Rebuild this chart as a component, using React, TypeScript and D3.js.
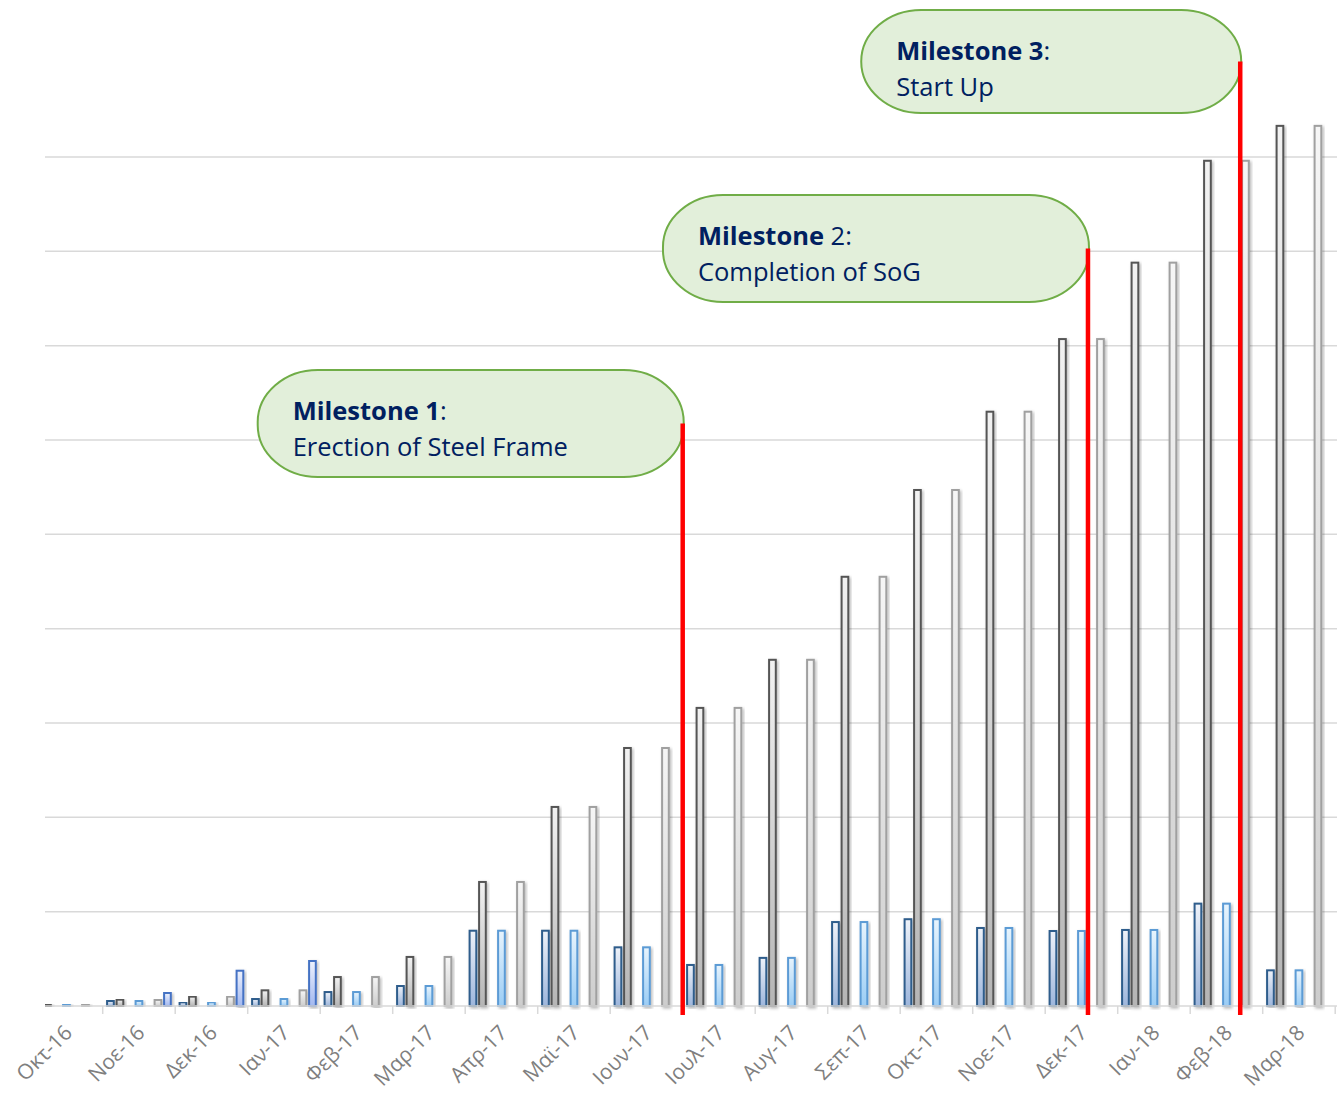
import * as d3 from 'd3'

const months = ['Οκτ-16', 'Νοε-16', 'Δεκ-16', 'Ιαν-17', 'Φεβ-17', 'Μαρ-17', 'Απρ-17', 'Μαϊ-17', 'Ιουν-17',
  'Ιουλ-17', 'Αυγ-17', 'Σεπ-17', 'Οκτ-17', 'Νοε-17', 'Δεκ-17', 'Ιαν-18', 'Φεβ-18', 'Μαρ-18']

// monthly / cumulative progress (no y labels in the original)
const planMonthly = [0.2, 0.53, 0.39, 0.74, 1.48, 2.12, 7.98, 7.98, 6.22, 4.35, 5.1, 8.9, 9.2, 8.27, 7.95, 8.06, 10.85, 3.78]
const planCum = [0.2, 0.67, 0.99, 1.66, 3.07, 5.2, 13.15, 21.1, 27.35, 31.6, 36.7, 45.5, 54.7, 63.0, 70.7, 78.8, 89.6, 93.3]
const actMonthly = [0.2, 0.53, 0.39, 0.74, 1.48, 2.12, 7.98, 7.98, 6.22, 4.35, 5.1, 8.9, 9.2, 8.27, 7.95, 8.06, 10.85, 3.78]
const actCum = [0.2, 0.64, 0.99, 1.66, 3.07, 5.2, 13.15, 21.1, 27.35, 31.6, 36.7, 45.5, 54.7, 63.0, 70.7, 78.8, 89.6, 93.3]
const extra = [null, 1.38, 3.74, 4.77, null, null, null, null, null, null, null, null, null, null, null, null, null, null]

const series = [
  { key: 'planMonthly', values: planMonthly, stroke: '#2f5d8c', top: '#eef2f9', bottom: '#9db6dc' },
  { key: 'planCum', values: planCum, stroke: '#555555', top: '#f2f2f2', bottom: '#b5b5b5' },
  { key: 'gapA', values: null },
  { key: 'actMonthly', values: actMonthly, stroke: '#5b9bd5', top: '#e8f4fd', bottom: '#9bcdf5' },
  { key: 'gapB', values: null },
  { key: 'actCum', values: actCum, stroke: '#a0a0a0', top: '#f6f6f6', bottom: '#cdcdcd' },
  { key: 'extra', values: extra, stroke: '#4472c4', top: '#eef2fd', bottom: '#a2b8f0' },
]

const milestones = [
  { bold: 'Milestone 1', rest: ':', line2: 'Erection of Steel Frame', month: 'Ιουν-17', frac: 1.0 },
  { bold: 'Milestone', rest: ' 2:', line2: 'Completion of SoG', month: 'Δεκ-17', frac: 0.59 },
  { bold: 'Milestone 3', rest: ':', line2: 'Start Up', month: 'Φεβ-18', frac: 0.69 },
]
// callout boxes (annotation layout)
const boxes = [
  { w: 426, h: 107, cy: 423.5 },
  { w: 426, h: 107, cy: 248.5 },
  { w: 380, h: 103, cy: 61.5 },
]

const W = 1337
const H = 1095
const FONT = '"Open Sans", "Noto Sans", sans-serif'

export default function App() {
  const x0 = d3.scaleBand().domain(months).range([30.2, 1335.2])
  const x1 = d3.scaleBand()
    .domain(series.map(s => s.key))
    .range([0, x0.bandwidth()])
    .paddingInner(0.105)
    .paddingOuter(0.368)
  const y = d3.scaleLinear().domain([0, 90]).range([1006, 157])
  const base = y(0)
  const bw = x1.bandwidth()

  return (
    <svg width={W} height={H} style={{ position: 'absolute', left: 0, top: 0, background: '#fff' }}>
      <defs>
        <clipPath id="plot"><rect x={45} y={0} width={W - 45} height={H} /></clipPath>
        {series.filter(s => s.values).map(s => (
          <linearGradient key={s.key} id={'g-' + s.key} x1="0" y1="0" x2="0" y2="1">
            <stop offset="0%" stopColor={s.top} />
            <stop offset="100%" stopColor={s.bottom} />
          </linearGradient>
        ))}
        <filter id="shadow" x="-50%" y="-5%" width="200%" height="110%">
          <feDropShadow dx="1.5" dy="1.5" stdDeviation="1.5" floodColor="#000" floodOpacity="0.28" />
        </filter>
      </defs>

      <g clipPath="url(#plot)">
        {/* gridlines */}
        {y.ticks(9).filter(t => t > 0).map(t => (
          <line key={t} x1={0} x2={W} y1={y(t)} y2={y(t)} stroke="#d9d9d9" strokeWidth={1.5} />
        ))}

        {/* bars */}
        {months.map((m, i) => (
          <g key={m} transform={`translate(${x0(m)},0)`}>
            {series.filter(s => s.values && s.values[i] != null).map(s => {
              const v = s.values[i] as number
              const top = y(v)
              return (
                <rect key={s.key}
                  x={(x1(s.key) as number) + 0.9} y={top}
                  width={bw - 1.8} height={Math.max(0.5, base - top)}
                  fill={`url(#g-${s.key})`} stroke={s.stroke} strokeWidth={2}
                  filter="url(#shadow)" />
              )
            })}
          </g>
        ))}

        {/* x axis */}
        <line x1={0} x2={W} y1={base} y2={base} stroke="#d9d9d9" strokeWidth={1.5} />
        {[...months.map(m => x0(m) as number), x0.range()[1]].map((t, i) => (
          <line key={i} x1={t} x2={t} y1={base} y2={base + 8} stroke="#d9d9d9" strokeWidth={1.5} />
        ))}
      </g>

      {/* x labels */}
      {months.map(m => {
        const cx = (x0(m) as number) + x0.bandwidth() / 2 + 7
        const cy = 1034
        return (
          <text key={m} x={cx} y={cy} transform={`rotate(-45,${cx},${cy})`}
            textAnchor="end" fontFamily={FONT} fontSize={21} fill="#7f7f7f">{m}</text>
        )
      })}

      {/* milestones */}
      {milestones.map((ms, i) => {
        const lx = (x0(ms.month) as number) + ms.frac * x0.bandwidth()
        const b = boxes[i]
        const right = lx + 1
        const left = right - b.w
        const topY = b.cy - b.h / 2
        return (
          <g key={i}>
            <rect x={left} y={topY} width={b.w} height={b.h} rx={60} ry={52}
              fill="#e2efda" stroke="#70ad47" strokeWidth={2} />
            <line x1={lx} x2={lx} y1={b.cy} y2={1015} stroke="#ff0000" strokeWidth={4.5} />
            <text x={left + 35} y={topY + 50} fontFamily={FONT} fontSize={25.5} fill="#002060">
              <tspan fontWeight="bold">{ms.bold}</tspan>
              <tspan>{ms.rest}</tspan>
            </text>
            <text x={left + 35} y={topY + 86} fontFamily={FONT} fontSize={25.5} fill="#002060">{ms.line2}</text>
          </g>
        )
      })}
    </svg>
  )
}
